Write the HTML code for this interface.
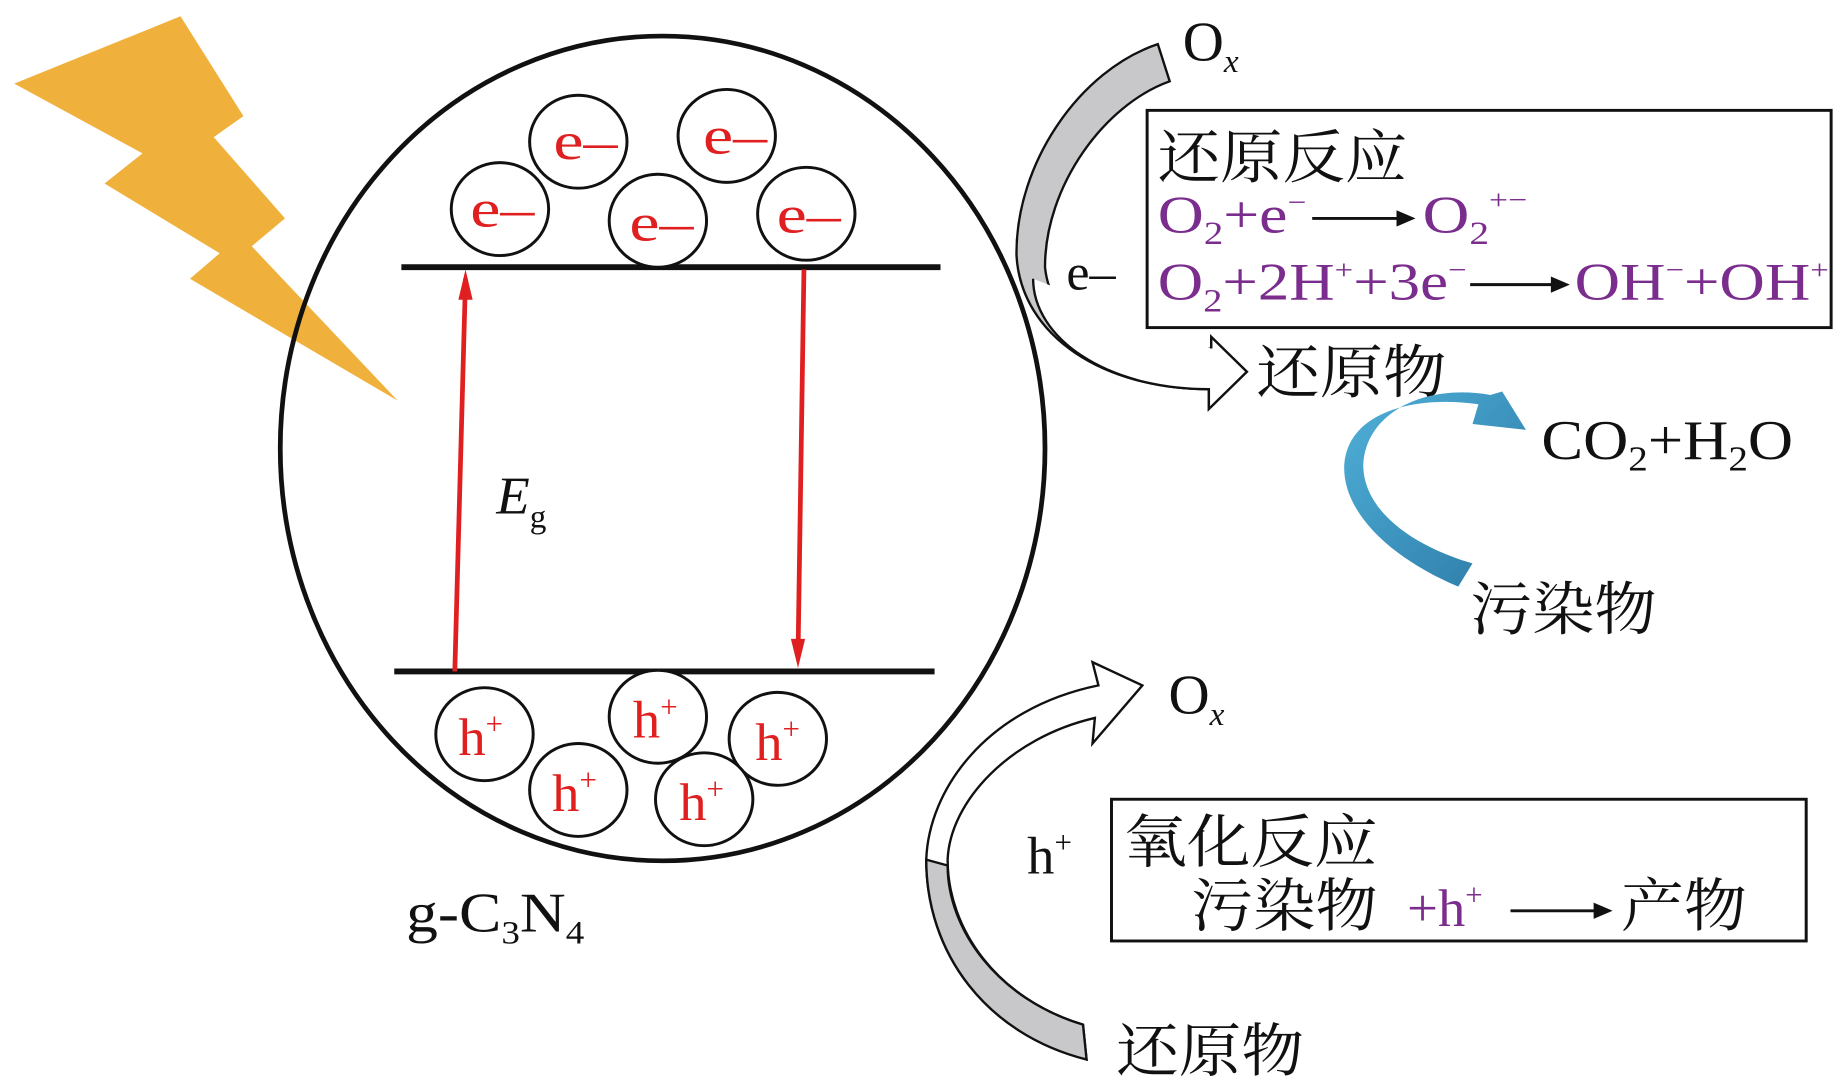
<!DOCTYPE html>
<html><head><meta charset="utf-8"><style>
html,body{margin:0;padding:0;background:#fff;}
svg{display:block}
text{font-family:"Liberation Serif","Noto Serif CJK SC",serif;}
</style></head><body>
<svg width="1843" height="1092" viewBox="0 0 1552 940" preserveAspectRatio="none" xmlns="http://www.w3.org/2000/svg">
<defs>
<linearGradient id="blue" x1="0" y1="0" x2="1" y2="1"><stop offset="0" stop-color="#4fb0d8"/><stop offset="1" stop-color="#2c7aa6"/></linearGradient>
</defs>
<polygon points="12,72 152,14 205,100 180,118 240,188 212,212 335,345 160,240 185,218 88,158 120,132" fill="#f0b13c"/>
<ellipse cx="558" cy="386" rx="322" ry="355" fill="none" stroke="#111" stroke-width="4"/>
<line x1="338" y1="230" x2="792" y2="230" stroke="#111" stroke-width="5"/>
<line x1="332" y1="578" x2="787" y2="578" stroke="#111" stroke-width="5"/>
<line x1="383" y1="578" x2="392" y2="240" stroke="#e02020" stroke-width="4"/>
<polygon points="392,232 386,258 398,258" fill="#e02020"/>
<line x1="677" y1="232" x2="672" y2="565" stroke="#e02020" stroke-width="4"/>
<polygon points="672,575 666,550 678,550" fill="#e02020"/>
<g fill="#fff" stroke="#111" stroke-width="2.5">
<ellipse cx="487" cy="122" rx="41" ry="40"/>
<ellipse cx="612" cy="117" rx="41" ry="40"/>
<ellipse cx="421" cy="180" rx="41" ry="40"/>
<ellipse cx="554" cy="190" rx="41" ry="40"/>
<ellipse cx="679" cy="184" rx="41" ry="40"/>
<ellipse cx="408" cy="632" rx="41" ry="40"/>
<ellipse cx="554" cy="617" rx="41" ry="40"/>
<ellipse cx="655" cy="636" rx="41" ry="40"/>
<ellipse cx="487" cy="680" rx="41" ry="40"/>
<ellipse cx="593" cy="688" rx="41" ry="40"/>
</g>
<g fill="#e02020" font-size="46">
<text x="466" y="137" textLength="54" lengthAdjust="spacingAndGlyphs">e–</text>
<text x="592" y="132" textLength="54" lengthAdjust="spacingAndGlyphs">e–</text>
<text x="396" y="195" textLength="54" lengthAdjust="spacingAndGlyphs">e–</text>
<text x="530" y="207" textLength="54" lengthAdjust="spacingAndGlyphs">e–</text>
<text x="654" y="200" textLength="54" lengthAdjust="spacingAndGlyphs">e–</text>
<text x="386" y="650">h<tspan font-size="26" dy="-18">+</tspan></text>
<text x="533" y="635">h<tspan font-size="26" dy="-18">+</tspan></text>
<text x="636" y="654">h<tspan font-size="26" dy="-18">+</tspan></text>
<text x="465" y="698">h<tspan font-size="26" dy="-18">+</tspan></text>
<text x="572" y="706">h<tspan font-size="26" dy="-18">+</tspan></text>
</g>
<text x="418" y="442" font-size="46" font-style="italic" fill="#111">E<tspan font-size="28" font-style="normal" dy="12">g</tspan></text>
<text x="342" y="802" font-size="48" fill="#111" textLength="150" lengthAdjust="spacingAndGlyphs">g-C<tspan font-size="28" dy="10">3</tspan><tspan dy="-10">N</tspan><tspan font-size="28" dy="10">4</tspan></text>
<!-- gray arrow top -->
<path d="M975,38 L985,70 C930,90 880,160 880,230 C885,280 930,300 1020,300 L1020,290 L1050,320 L1018,352 L1018,335 C930,335 860,290 856,220 C855,140 910,60 975,38 Z" fill="#c8c8ca" stroke="#111" stroke-width="2"/>
<path d="M1020,300 L1020,290 L1050,320 L1018,352 L1018,335 C930,335 870,290 870,240" fill="#fff" stroke="#111" stroke-width="2"/>
<text x="996" y="52" font-size="48" fill="#111">O<tspan font-size="28" font-style="italic" dy="10">x</tspan></text>
<text x="898" y="249" font-size="44" fill="#111">e–</text>
<rect x="966" y="95" width="576" height="187" fill="none" stroke="#111" stroke-width="2.5"/>
<text x="975" y="153" font-size="50" fill="#111" textLength="210" lengthAdjust="spacingAndGlyphs">还原反应</text>
<text x="975" y="200" font-size="46" fill="#7b2d8e" textLength="125" lengthAdjust="spacingAndGlyphs">O<tspan font-size="28" dy="10">2</tspan><tspan dy="-10">+e</tspan><tspan font-size="24" dy="-18">−</tspan></text>
<line x1="1105" y1="188" x2="1185" y2="188" stroke="#111" stroke-width="2.5"/>
<polygon points="1192,188 1176,181 1176,195" fill="#111"/>
<text x="1198" y="200" font-size="46" fill="#7b2d8e" textLength="88" lengthAdjust="spacingAndGlyphs">O<tspan font-size="28" dy="10">2</tspan><tspan font-size="24" dy="-30">+−</tspan></text>
<text x="975" y="258" font-size="46" fill="#7b2d8e" textLength="260" lengthAdjust="spacingAndGlyphs">O<tspan font-size="28" dy="10">2</tspan><tspan dy="-10">+2H</tspan><tspan font-size="24" dy="-18">+</tspan><tspan dy="18">+3e</tspan><tspan font-size="24" dy="-18">−</tspan></text>
<line x1="1238" y1="245" x2="1315" y2="245" stroke="#111" stroke-width="2.5"/>
<polygon points="1322,245 1306,238 1306,252" fill="#111"/>
<text x="1326" y="258" font-size="46" fill="#7b2d8e" textLength="214" lengthAdjust="spacingAndGlyphs">OH<tspan font-size="24" dy="-18">−</tspan><tspan dy="18">+OH</tspan><tspan font-size="24" dy="-18">+</tspan></text>
<text x="1058" y="338" font-size="50" fill="#111" textLength="160" lengthAdjust="spacingAndGlyphs">还原物</text>
<path d="M1228,505 C1170,480 1130,440 1132,400 C1135,355 1190,340 1245,348 L1240,365 L1285,370 L1265,337 L1255,340 C1200,330 1150,355 1148,400 C1148,440 1190,470 1240,485 Z" fill="url(#blue)"/>
<text x="1298" y="395" font-size="48" fill="#111" textLength="212" lengthAdjust="spacingAndGlyphs">CO<tspan font-size="30" dy="10">2</tspan><tspan dy="-10">+H</tspan><tspan font-size="30" dy="10">2</tspan><tspan dy="-10">O</tspan></text>
<text x="1238" y="542" font-size="50" fill="#111" textLength="157" lengthAdjust="spacingAndGlyphs">污染物</text>
<!-- gray arrow bottom -->
<path d="M912,882 L915,912 C830,890 780,820 780,740 C782,680 830,610 925,590 L920,570 L962,590 L920,640 L922,618 C850,635 800,690 798,740 C798,800 840,860 912,882 Z" fill="#fff" stroke="#111" stroke-width="2"/>
<path d="M912,882 L915,912 C830,890 780,820 780,740 L798,745 C798,800 840,860 912,882 Z" fill="#c8c8ca" stroke="#111" stroke-width="2"/>
<text x="984" y="614" font-size="48" fill="#111">O<tspan font-size="28" font-style="italic" dy="10">x</tspan></text>
<text x="865" y="752" font-size="46" fill="#111">h<tspan font-size="26" dy="-18">+</tspan></text>
<rect x="936" y="688" width="585" height="122" fill="none" stroke="#111" stroke-width="2.5"/>
<text x="946" y="742" font-size="50" fill="#111" textLength="214" lengthAdjust="spacingAndGlyphs">氧化反应</text>
<text x="1003" y="797" font-size="50" fill="#111" textLength="157" lengthAdjust="spacingAndGlyphs">污染物</text>
<text x="1185" y="797" font-size="46" fill="#7b2d8e">+h<tspan font-size="26" dy="-18">+</tspan></text>
<line x1="1272" y1="784" x2="1350" y2="784" stroke="#111" stroke-width="2.5"/>
<polygon points="1358,784 1342,777 1342,791" fill="#111"/>
<text x="1365" y="797" font-size="50" fill="#111" textLength="106" lengthAdjust="spacingAndGlyphs">产物</text>
<text x="940" y="922" font-size="50" fill="#111" textLength="158" lengthAdjust="spacingAndGlyphs">还原物</text>
</svg>
</body></html>
